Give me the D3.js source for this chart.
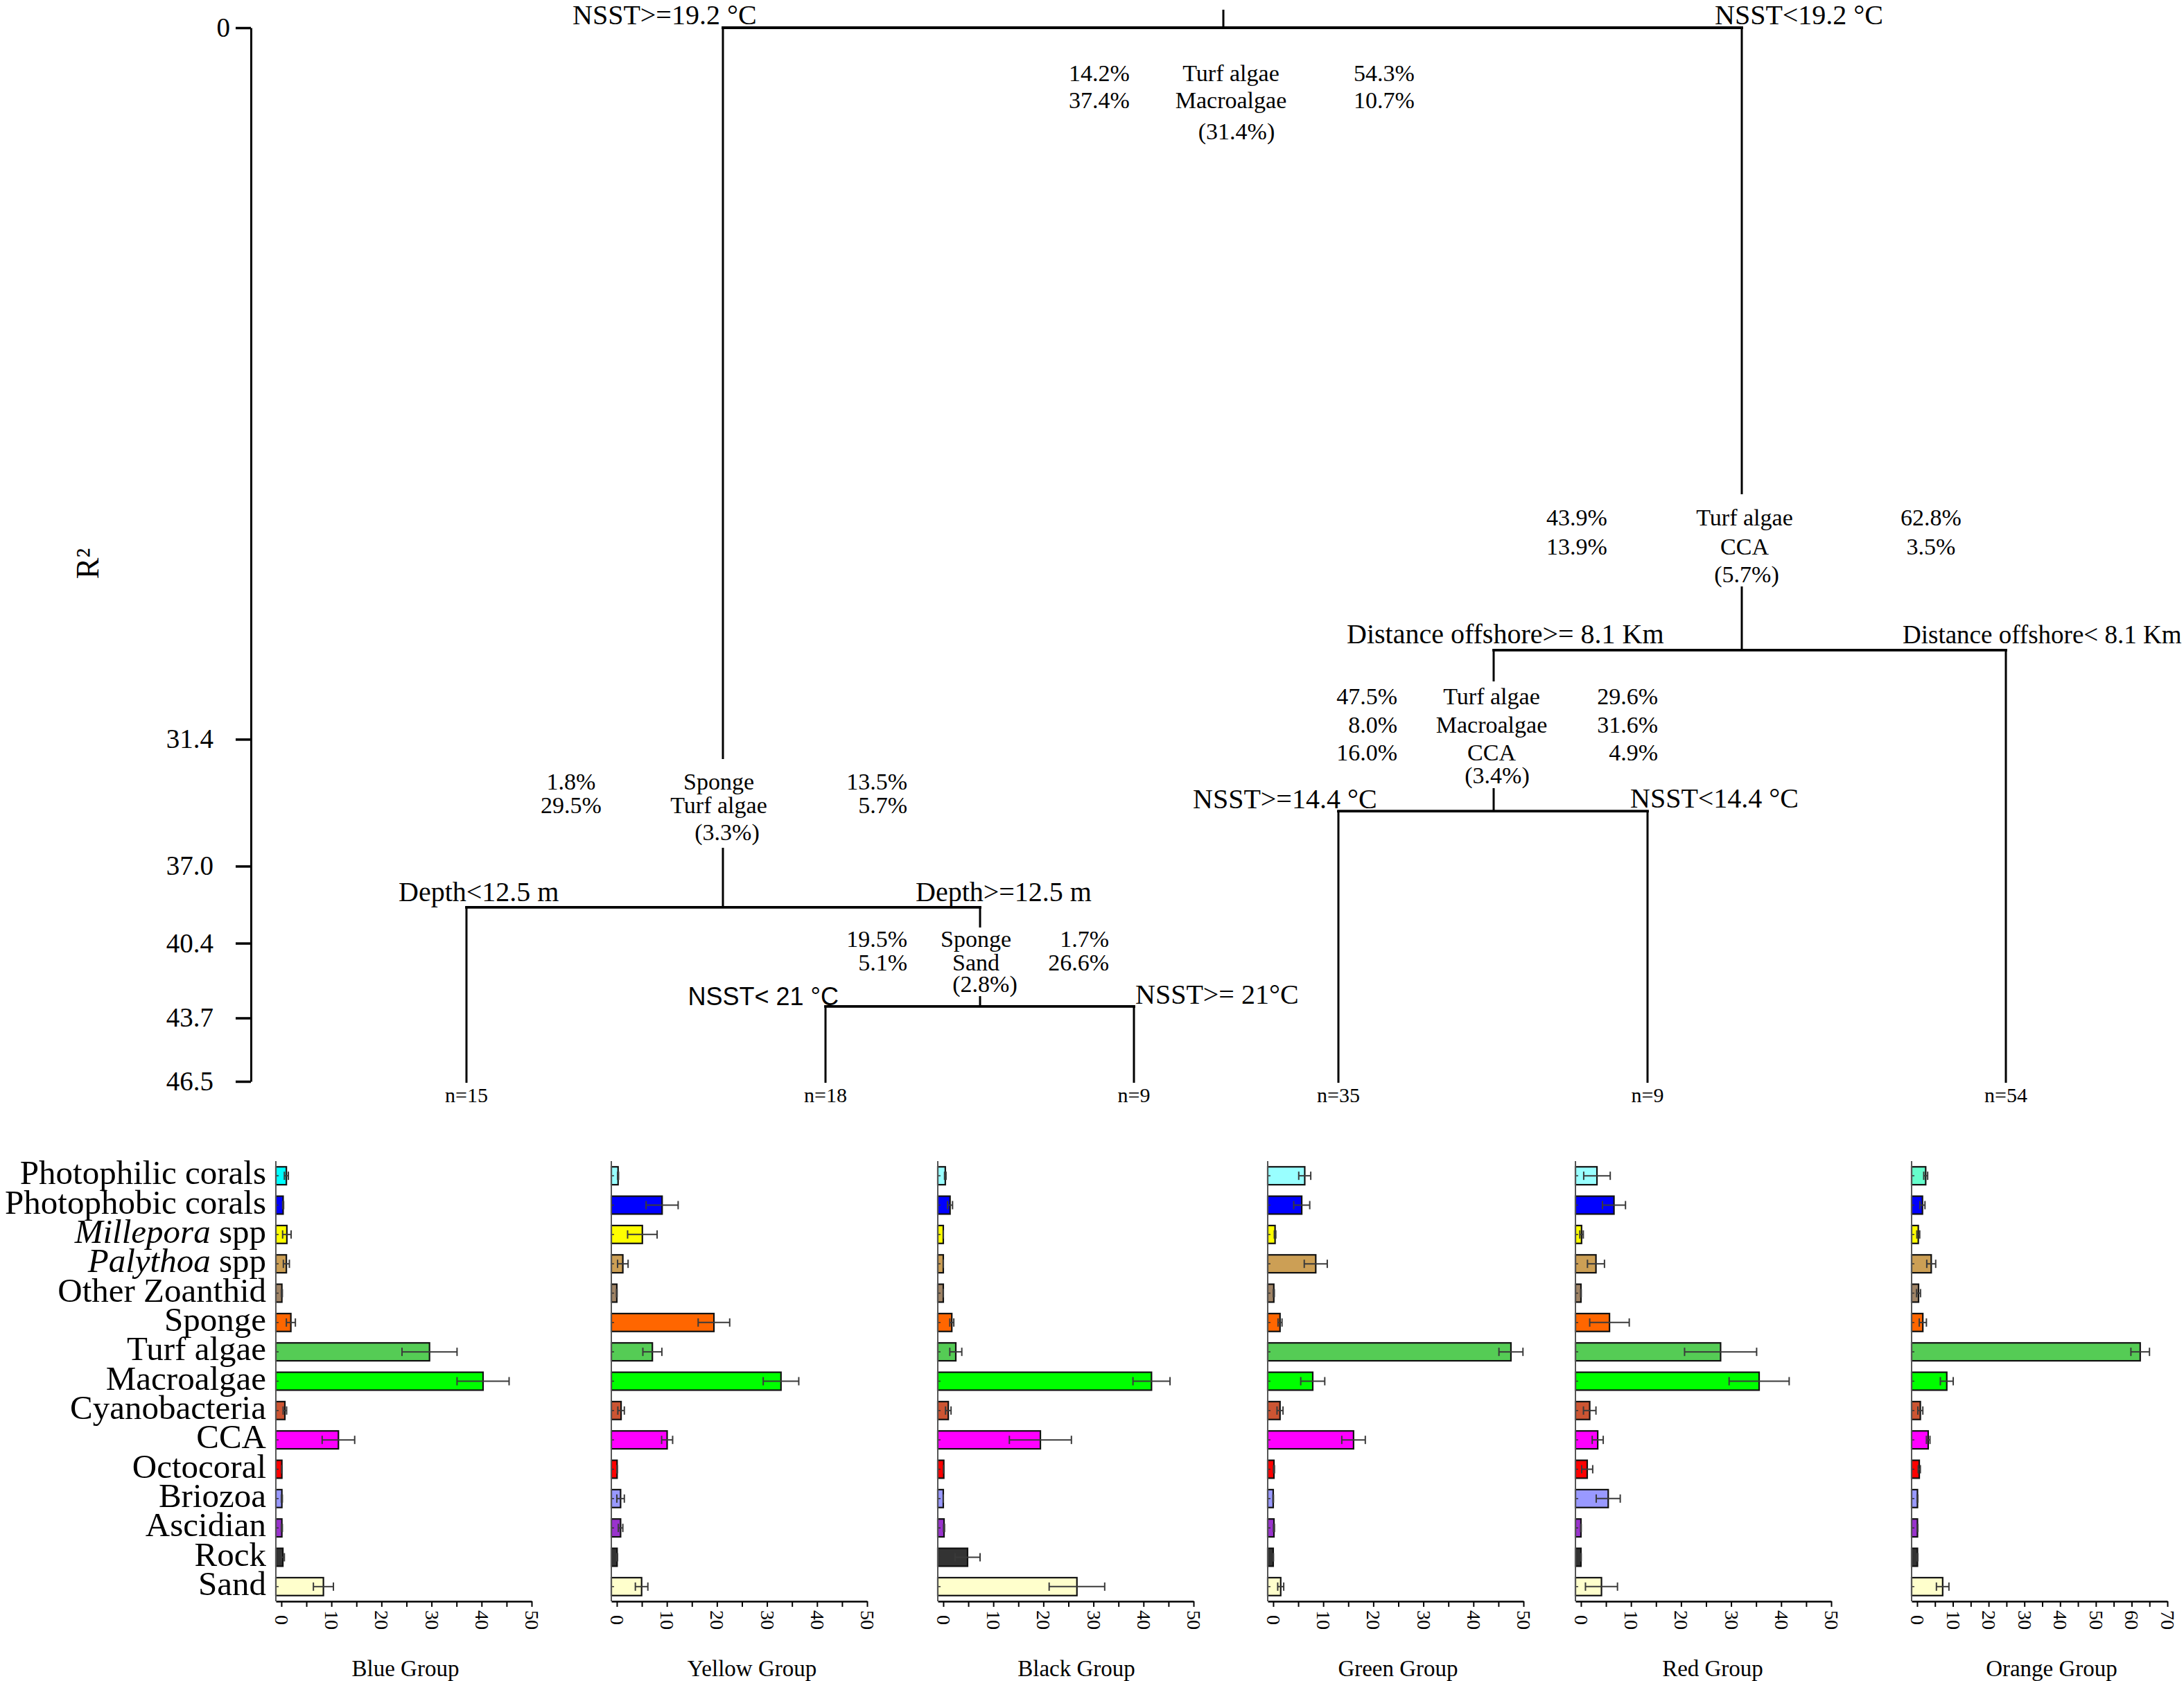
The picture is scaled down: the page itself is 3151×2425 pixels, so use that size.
<!DOCTYPE html>
<html><head><meta charset="utf-8">
<script src="https://cdn.jsdelivr.net/npm/d3@7"></script>
<style>body{margin:0;background:#fff} svg{display:block}</style>
</head><body>
<svg id="chart" width="3151" height="2425"></svg>
<script>
// ---------------- DATA ----------------
const rTicks = [0, 31.4, 37.0, 40.4, 43.7, 46.5];
const leafR = 46.5;

const treeNodes = [
  {id:"root", parent:null, r:0, branch:null, species:["Turf algae","Macroalgae"], leftPct:["14.2%","37.4%"], rightPct:["54.3%","10.7%"], explained:"(31.4%)"},
  {id:"n2", parent:"root", r:38.82, branch:"NSST>=19.2 °C", species:["Sponge","Turf algae"], leftPct:["1.8%","29.5%"], rightPct:["13.5%","5.7%"], explained:"(3.3%)"},
  {id:"n3", parent:"root", r:27.47, branch:"NSST<19.2 °C", species:["Turf algae","CCA"], leftPct:["43.9%","13.9%"], rightPct:["62.8%","3.5%"], explained:"(5.7%)"},
  {id:"n4", parent:"n2", r:43.19, branch:"Depth>=12.5 m", species:["Sponge","Sand"], leftPct:["19.5%","5.1%"], rightPct:["1.7%","26.6%"], explained:"(2.8%)"},
  {id:"n5", parent:"n3", r:34.57, branch:"Distance offshore>= 8.1 Km", species:["Turf algae","Macroalgae","CCA"], leftPct:["47.5%","8.0%","16.0%"], rightPct:["29.6%","31.6%","4.9%"], explained:"(3.4%)"}
];
const leafNodes = [
  {id:"L15", parent:"n2", branch:"Depth<12.5 m", n:"n=15"},
  {id:"L18", parent:"n4", branch:"NSST< 21 °C", n:"n=18"},
  {id:"L9a", parent:"n4", branch:"NSST>= 21°C", n:"n=9"},
  {id:"L35", parent:"n5", branch:"NSST>=14.4 °C", n:"n=35"},
  {id:"L9b", parent:"n5", branch:"NSST<14.4 °C", n:"n=9"},
  {id:"L54", parent:"n3", branch:"Distance offshore< 8.1 Km", n:"n=54"}
];

const categories = ["Photophilic corals","Photophobic corals","Millepora spp","Palythoa spp","Other Zoanthid","Sponge","Turf algae","Macroalgae","Cyanobacteria","CCA","Octocoral","Briozoa","Ascidian","Rock","Sand"];
const catColors = ["#99ffff","#0000ff","#ffff00","#cc9f55","#a08466","#ff6600","#55cc55","#00ff00","#cc5533","#ff00ff","#ff0000","#9999ff","#9933cc","#333333","#ffffcc"];

const groupNames = ["Blue Group","Yellow Group","Black Group","Green Group","Red Group","Orange Group"];
const groupMax = [50, 50, 50, 50, 50, 70];
const photophilicColors = ["#00ffff","#99ffff","#99ffff","#99ffff","#99ffff","#66ffcc"];

const blueMean   = [1.0, 0.35, 1.1, 1.0, 0.1, 1.9, 29.6, 40.3, 0.7, 11.4, 0.1, 0.1, 0.1, 0.3, 8.4];
const blueSE     = [0.4, 0.1, 0.85, 0.6, 0.1, 0.9, 5.5, 5.2, 0.35, 3.25, 0.05, 0.1, 0.1, 0.3, 2.0];
const yellowMean = [0.25, 9.05, 5.1, 1.2, 0.0, 19.4, 7.1, 32.8, 0.85, 10.05, 0.05, 0.75, 0.75, 0.05, 4.95];
const yellowSE   = [0.1, 3.2, 2.95, 1.05, 0.05, 3.15, 1.9, 3.55, 0.65, 1.1, 0.05, 0.75, 0.45, 0.1, 1.25];
const blackMean  = [0.4, 1.35, 0.0, 0.0, 0.0, 1.7, 2.5, 41.6, 1.0, 19.4, 0.1, 0.0, 0.15, 4.85, 26.7];
const blackSE    = [0.15, 0.5, 0.0, 0.0, 0.0, 0.4, 1.2, 3.7, 0.55, 6.2, 0.05, 0.0, 0.1, 2.5, 5.55];
const greenMean  = [6.3, 5.7, 0.37, 8.5, 0.12, 1.36, 47.5, 7.9, 1.36, 16.05, 0.15, 0.0, 0.15, 0.0, 1.5];
const greenSE    = [1.2, 1.6, 0.15, 2.3, 0.1, 0.4, 2.4, 2.4, 0.6, 2.35, 0.1, 0.05, 0.1, 0.05, 0.6];
const redMean    = [3.2, 6.6, 0.12, 3.0, 0.0, 5.7, 27.9, 35.6, 1.75, 3.35, 1.25, 5.45, 0.0, 0.0, 4.1];
const redSE      = [2.65, 2.3, 0.35, 1.7, 0.05, 3.95, 7.2, 6.0, 1.25, 1.1, 1.1, 2.4, 0.05, 0.05, 3.2];
const orangeMean = [2.4, 1.5, 0.33, 3.95, 0.4, 1.6, 62.4, 8.3, 0.9, 3.1, 0.6, 0.1, 0.1, 0.1, 7.15];
const orangeSE   = [0.55, 0.7, 0.4, 1.25, 0.55, 1.0, 2.6, 1.8, 0.7, 0.5, 0.3, 0.1, 0.1, 0.1, 1.75];
const groupMeans = [blueMean, yellowMean, blackMean, greenMean, redMean, orangeMean];
const groupSEs   = [blueSE, yellowSE, blackSE, greenSE, redSE, orangeSE];

// ---------------- LAYOUT ----------------
const serif = "'Liberation Serif','Times New Roman',serif";
const sans = "'Liberation Sans',Arial,sans-serif";
const nodeLayout = {
  root:{x:1765, rows:[117,156], expl:201, leftX:1586, leftA:"middle", specX:1776, rightX:1997, rightA:"middle", explX:1784},
  n2:{x:1043, rows:[1139,1173], expl:1212, leftX:824, leftA:"middle", specX:1037, rightX:1309, rightA:"end", explX:1049, gap:[1095,1223]},
  n3:{x:2513, rows:[758,800], expl:840, leftX:2275, leftA:"middle", specX:2517, rightX:2786, rightA:"middle", explX:2520, gap:[713,846]},
  n4:{x:1414, rows:[1366,1400], expl:1431, leftX:1309, leftA:"end", specX:1408, rightX:1600, rightA:"end", explX:1421, gap:[1338,1437]},
  n5:{x:2155, rows:[1016,1057,1097], expl:1130, leftX:2016, leftA:"end", specX:2152, rightX:2392, rightA:"end", explX:2160, gap:[983,1137]},
  L15:{x:673}, L18:{x:1191}, L9a:{x:1636}, L35:{x:1931}, L9b:{x:2377}, L54:{x:2894}
};
const branchLayout = {
  n2:{x:826,y:35,a:"start"}, n3:{x:2474,y:35,a:"start"},
  L15:{x:575,y:1300,a:"start"}, n4:{x:1321,y:1300,a:"start"},
  L18:{x:1210,y:1450,a:"end",font:sans,size:36}, L9a:{x:1638,y:1448,a:"start"},
  n5:{x:1943,y:928,a:"start"}, L54:{x:2745,y:928,a:"start",size:37},
  L35:{x:1721,y:1166,a:"start"}, L9b:{x:2352,y:1165,a:"start"}
};
const panelX = [398, 882, 1353, 1829, 2273, 2758];
const titleX = [585, 1085, 1553, 2017, 2471, 2960];
const panelW = 369, panelTop = 1675, panelBottom = 2310;

const svg = d3.select("#chart");

// ---------------- TREE ----------------
const yR = d3.scaleLinear().domain([0, leafR]).range([40, 1560]);

const axisG = svg.append("g").attr("transform", "translate(362,0)")
  .call(d3.axisLeft(yR).tickValues(rTicks).tickSize(22).tickSizeOuter(0).tickPadding(32)
    .tickFormat(d => d === 0 ? "0" : d3.format(".1f")(d)));
axisG.attr("font-family", serif).attr("font-size", 39);
axisG.select(".domain").attr("stroke", "#000").attr("stroke-width", 3);
axisG.selectAll(".tick line").attr("stroke", "#000").attr("stroke-width", 3.5);
axisG.selectAll(".tick text").attr("fill", "#000").filter(d => d === 0).attr("dx", 24);

svg.append("text").attr("transform", "translate(142,813) rotate(-90)")
  .attr("text-anchor", "middle").attr("font-family", serif).attr("font-size", 46).text("R²");

const allNodes = [...treeNodes.map(d => ({...d, leaf:false})), ...leafNodes.map(d => ({...d, r:leafR, leaf:true}))];
const byId = new Map(allNodes.map(d => [d.id, d]));
const lines = svg.append("g").attr("stroke", "#000");

treeNodes.forEach(nd => {
  const xs = allNodes.filter(c => c.parent === nd.id).map(c => nodeLayout[c.id].x);
  lines.append("line").attr("x1", d3.min(xs)).attr("x2", d3.max(xs))
    .attr("y1", yR(nd.r)).attr("y2", yR(nd.r)).attr("stroke-width", 3.8).attr("stroke-linecap", "square");
});
function vseg(x, y1, y2) {
  lines.append("line").attr("x1", x).attr("x2", x).attr("y1", y1).attr("y2", y2).attr("stroke-width", 3);
}
allNodes.forEach(c => {
  const L = nodeLayout[c.id];
  if (!c.parent) { vseg(L.x, 14, yR(0)); return; }
  const py = yR(byId.get(c.parent).r);
  if (c.leaf) vseg(L.x, py, yR(leafR) + 2);
  else { vseg(L.x, py, L.gap[0]); vseg(L.x, L.gap[1], yR(c.r)); }
});

const labels = svg.append("g").attr("font-family", serif).attr("fill", "#000");
treeNodes.forEach(nd => {
  const L = nodeLayout[nd.id];
  nd.species.forEach((s, i) => {
    labels.append("text").attr("x", L.specX).attr("y", L.rows[i]).attr("text-anchor", "middle").attr("font-size", 34).text(s);
    labels.append("text").attr("x", L.leftX).attr("y", L.rows[i]).attr("text-anchor", L.leftA).attr("font-size", 34).text(nd.leftPct[i]);
    labels.append("text").attr("x", L.rightX).attr("y", L.rows[i]).attr("text-anchor", L.rightA).attr("font-size", 34).text(nd.rightPct[i]);
  });
  labels.append("text").attr("x", L.explX).attr("y", L.expl).attr("text-anchor", "middle").attr("font-size", 34).text(nd.explained);
});
allNodes.filter(d => d.branch).forEach(d => {
  const B = branchLayout[d.id];
  labels.append("text").attr("x", B.x).attr("y", B.y).attr("text-anchor", B.a)
    .attr("font-family", B.font || serif).attr("font-size", B.size || 40).text(d.branch);
});
leafNodes.forEach(d => {
  labels.append("text").attr("x", nodeLayout[d.id].x).attr("y", 1590).attr("text-anchor", "middle")
    .attr("font-size", 30).text(d.n);
});

// ---------------- BAR PANELS ----------------
const band = d3.scaleBand().domain(categories).range([panelTop, panelBottom]).paddingInner(0.39).paddingOuter(0.195);
const bw = band.bandwidth();

const catG = svg.append("g").attr("font-family", serif).attr("font-size", 49).attr("text-anchor", "end");
categories.forEach(c => {
  const t = catG.append("text").attr("x", panelX[0] - 14).attr("y", band(c) + bw / 2).attr("dy", "0.25em");
  if (/ spp$/.test(c)) {
    const parts = c.split(" ");
    t.append("tspan").attr("font-style", "italic").text(parts[0]);
    t.append("tspan").text(" " + parts.slice(1).join(" "));
  } else t.text(c);
});

groupNames.forEach((gname, gi) => {
  const x0 = panelX[gi], max = groupMax[gi];
  const xs = d3.scaleLinear().domain([-0.022 * max, max]).range([x0, x0 + panelW]);
  const g = svg.append("g");
  const means = groupMeans[gi], ses = groupSEs[gi];

  categories.forEach((c, i) => {
    const cy = band(c) + bw / 2;
    g.append("rect").attr("x", x0).attr("y", band(c)).attr("width", Math.max(0, xs(means[i]) - x0)).attr("height", bw)
      .attr("fill", i === 0 ? photophilicColors[gi] : catColors[i]).attr("stroke", "#111").attr("stroke-width", 2.2);
    g.append("line").attr("x1", x0).attr("x2", x0 + 4).attr("y1", cy).attr("y2", cy).attr("stroke", "#333").attr("stroke-width", 1.5);
    const lo = xs(means[i] - ses[i]), hi = xs(means[i] + ses[i]);
    const eb = g.append("g").attr("stroke", "#3a3a3a").attr("stroke-width", 2);
    eb.append("line").attr("x1", lo).attr("x2", hi).attr("y1", cy).attr("y2", cy);
    eb.append("line").attr("x1", lo).attr("x2", lo).attr("y1", cy - 6).attr("y2", cy + 6);
    eb.append("line").attr("x1", hi).attr("x2", hi).attr("y1", cy - 6).attr("y2", cy + 6);
  });

  g.append("line").attr("x1", x0).attr("x2", x0).attr("y1", panelTop).attr("y2", panelBottom)
    .attr("stroke", "#555").attr("stroke-width", 2);

  const ax = svg.append("g").attr("transform", `translate(0,${panelBottom})`)
    .call(d3.axisBottom(xs).tickValues(d3.range(0, max + 1, 5)).tickSize(8).tickSizeOuter(0)
      .tickFormat(d => d % 10 === 0 ? d : ""));
  ax.attr("font-family", serif).attr("font-size", 28);
  ax.select(".domain").attr("stroke", "#000").attr("stroke-width", 2.5);
  ax.selectAll(".tick line").attr("stroke", "#000").attr("stroke-width", 2);
  ax.selectAll(".tick text").attr("y", null).attr("dy", null).attr("fill", "#000")
    .attr("transform", "translate(0,27) rotate(90)").attr("text-anchor", "middle").attr("dominant-baseline", "central");

  svg.append("text").attr("x", titleX[gi]).attr("y", 2418).attr("text-anchor", "middle")
    .attr("font-family", serif).attr("font-size", 33).text(gname);
});
</script>
</body></html>
